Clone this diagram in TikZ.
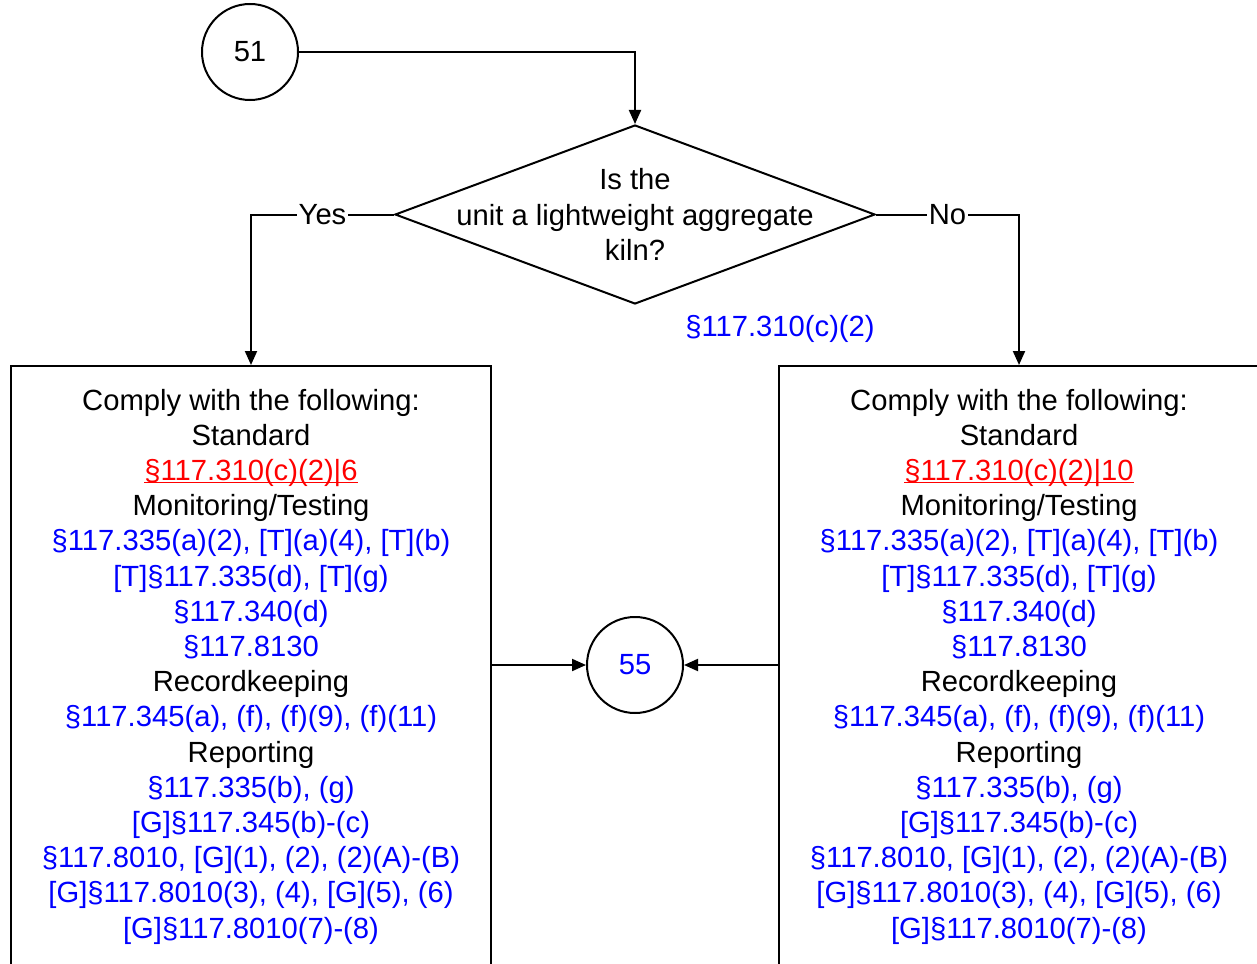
\documentclass[tikz,border=0pt]{standalone}
\usepackage{fontspec}
\setmainfont{Liberation Sans}
\usetikzlibrary{arrows.meta,shapes.geometric}

\definecolor{refblue}{RGB}{0,0,255}
\definecolor{refred}{RGB}{255,0,0}

\newlength{\reflinewd}
\newcommand{\refline}[1]{\settowidth{\reflinewd}{#1}\rlap{#1}\rule[-1.3pt]{\reflinewd}{0.7pt}}

\newcommand{\complylist}[1]{Comply with the following:\\
  Standard\\
  \textcolor{refred}{\refline{§117.310(c)(2)|#1}}\\
  Monitoring/Testing\\
  \textcolor{refblue}{§117.335(a)(2), [T](a)(4), [T](b)}\\
  \textcolor{refblue}{[T]§117.335(d), [T](g)}\\
  \textcolor{refblue}{§117.340(d)}\\
  \textcolor{refblue}{§117.8130}\\
  Recordkeeping\\
  \textcolor{refblue}{§117.345(a), (f), (f)(9), (f)(11)}\\
  Reporting\\
  \textcolor{refblue}{§117.335(b), (g)}\\
  \textcolor{refblue}{[G]§117.345(b)-(c)}\\
  \textcolor{refblue}{§117.8010, [G](1), (2), (2)(A)-(B)}\\
  \textcolor{refblue}{[G]§117.8010(3), (4), [G](5), (6)}\\
  \textcolor{refblue}{[G]§117.8010(7)-(8)}}

\begin{document}
\begin{tikzpicture}[x=0.5pt,y=-0.5pt,line width=1pt,
    font=\fontsize{14.6}{17.6}\selectfont,
    arr/.style={-{Triangle[length=7pt,width=6pt]}},
    conn/.style={circle,draw,minimum size=48pt,inner sep=0}]
  \useasboundingbox (0,0) rectangle (1257,963);
  % connectors and decision
  \node[conn] (c51) at (250,52) {51};
  \node[diamond,draw,minimum width=240pt,minimum height=89.5pt,inner sep=0] (q) at (635,214.5) {};
  \node[align=center,inner sep=0] (qtext) at (q) {Is the\\unit a lightweight aggregate\\kiln?};
  \node[text=refblue] (qref) at (780,329) {§117.310(c)(2)};
  \node[conn,text=refblue] (c55) at (635,665) {55};
  % requirement boxes
  \node[draw,minimum width=240pt,minimum height=320pt,anchor=north,inner sep=0] (lbox) at (251,365) {};
  \node[draw,minimum width=240pt,minimum height=320pt,anchor=north,inner sep=0] (rbox) at (1019,365) {};
  \node[align=center,anchor=north,inner sep=0] (ltext) at (251,388) {\complylist{6}};
  \node[align=center,anchor=north,inner sep=0] (rtext) at (1019,388) {\complylist{10}};
  % arrows
  \draw[arr] (c51) -| (q.north);
  \draw[arr] (q.west) -| node[pos=0.25,fill=white,inner sep=1pt]{Yes} (lbox.north);
  \draw[arr] (q.east) -| node[pos=0.25,fill=white,inner sep=1pt]{No} (rbox.north);
  \draw[arr] (lbox.east |- c55) -- (c55);
  \draw[arr] (rbox.west |- c55) -- (c55);
\end{tikzpicture}
\end{document}
